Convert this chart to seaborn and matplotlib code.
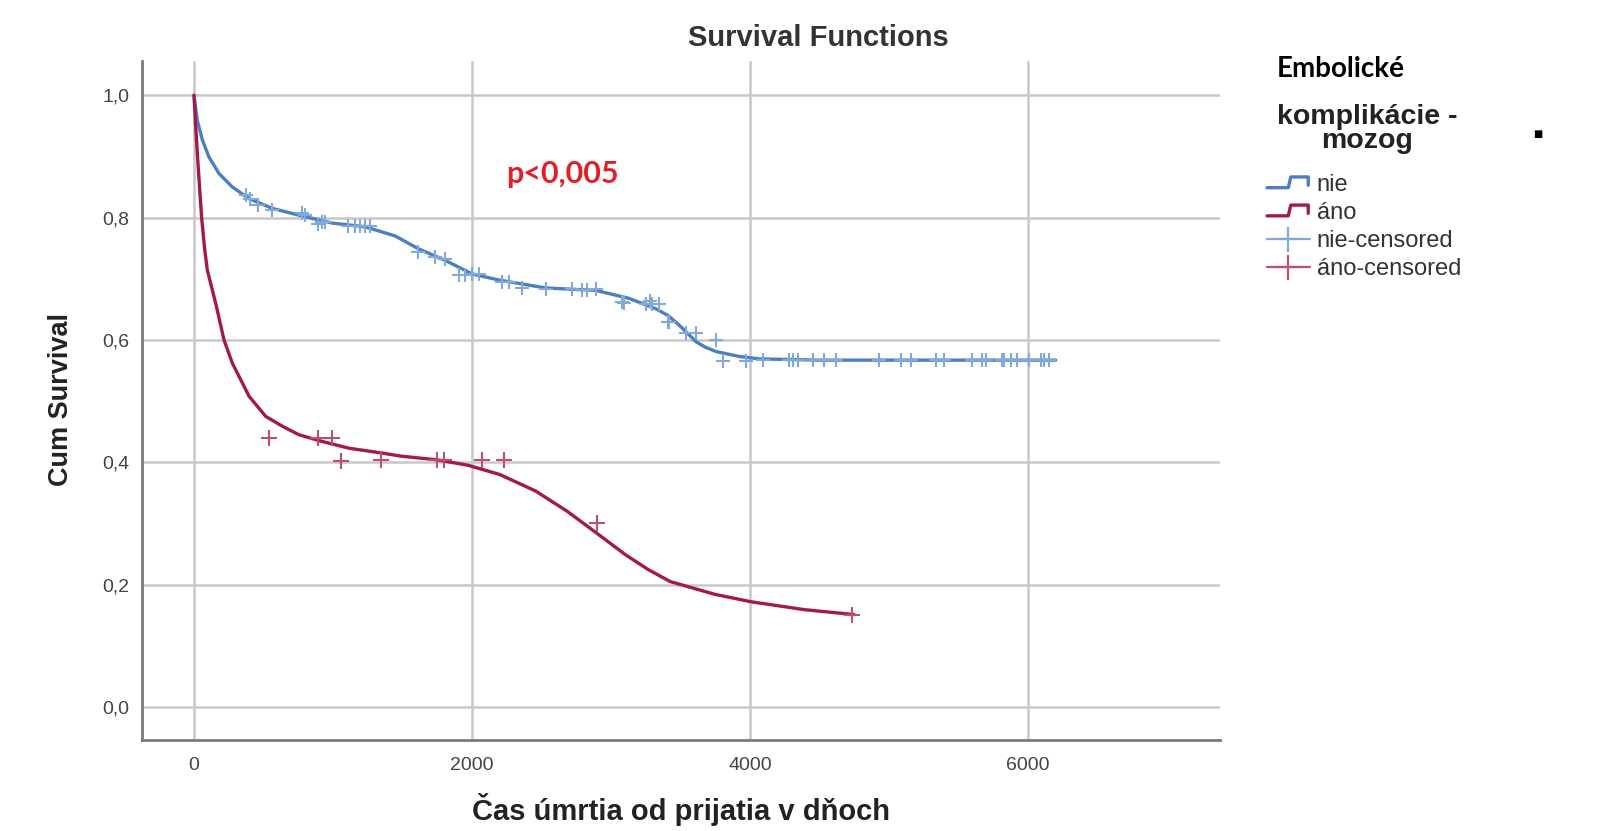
import numpy as np
import pandas as pd
import matplotlib
matplotlib.use('Agg')
import matplotlib.pyplot as plt
import seaborn as sns
from matplotlib.lines import Line2D
from matplotlib.legend_handler import HandlerBase

# survival curves (days, cumulative survival)
nie_t = [0, 24, 60, 108, 180, 276, 396, 564, 755, 995, 1231, 1447, 1615, 1808, 2000, 2192,
         2529, 2890, 3130, 3322, 3410, 3491, 3550, 3612, 3680, 3756, 3923, 4067, 4500,
         5200, 6199]
nie_s = [1.0, 0.959, 0.927, 0.899, 0.872, 0.850, 0.831, 0.815, 0.804, 0.791, 0.785, 0.770,
         0.749, 0.730, 0.708, 0.698, 0.685, 0.681, 0.668, 0.651, 0.640, 0.624, 0.611, 0.597,
         0.588, 0.581, 0.573, 0.569, 0.567, 0.567, 0.567]

ano_t = [0, 12, 24, 40, 55, 75, 96, 156, 216, 276, 396, 516, 635, 755, 923, 1115, 1355, 1490,
         1749, 1974, 2200, 2458, 2684, 2910, 3103, 3265, 3426, 3749, 4007, 4394, 4749]
ano_s = [1.0, 0.950, 0.905, 0.850, 0.800, 0.752, 0.714, 0.660, 0.600, 0.562, 0.508, 0.475,
         0.459, 0.445, 0.434, 0.423, 0.415, 0.410, 0.404, 0.395, 0.380, 0.353, 0.320, 0.282,
         0.249, 0.225, 0.205, 0.184, 0.172, 0.159, 0.151]

# censored observations
nie_cens_t = [377, 401, 462, 558, 774, 798, 894, 918, 942, 1111, 1159, 1195, 1231, 1267,
              1615, 1736, 1808, 1904, 1952, 2000, 2048, 2217, 2265, 2361, 2529, 2721,
              2793, 2830, 2890, 3082, 3097, 3250, 3277, 3298, 3346, 3408, 3419, 3540,
              3612, 3756, 3804, 3971, 4091, 4283, 4307, 4342, 4450, 4534, 4618, 4929,
              5085, 5157, 5336, 5396, 5600, 5672, 5696, 5815, 5827, 5875, 5923, 6007,
              6091, 6115, 6151]
nie_cens_s = [0.837, 0.831, 0.820, 0.812, 0.807, 0.804, 0.790, 0.793, 0.793, 0.787, 0.787,
              0.787, 0.787, 0.787, 0.744, 0.736, 0.733, 0.706, 0.706, 0.707, 0.707, 0.695,
              0.695, 0.685, 0.684, 0.683, 0.681, 0.681, 0.683, 0.662, 0.660, 0.659, 0.663,
              0.659, 0.659, 0.630, 0.629, 0.611, 0.611, 0.600, 0.565, 0.565, 0.567, 0.567,
              0.567, 0.567, 0.567, 0.567, 0.567, 0.567, 0.567, 0.567, 0.567, 0.567, 0.567,
              0.567, 0.567, 0.567, 0.567, 0.567, 0.567, 0.567, 0.567, 0.567, 0.567]

ano_cens_t = [539, 894, 990, 1055, 1345, 1749, 1797, 2071, 2232, 2900, 4733]
ano_cens_s = [0.440, 0.440, 0.440, 0.402, 0.403, 0.403, 0.403, 0.403, 0.403, 0.301, 0.151]

x_ticks = [0, 2000, 4000, 6000]
y_ticks = [0.0, 0.2, 0.4, 0.6, 0.8, 1.0]
legend_labels = ['nie', 'áno', 'nie-censored', 'áno-censored']

blue = '#4a7fc0'
blue_light = '#82a9da'
red = '#a31a4a'
red_light = '#bb4e72'

sns.set_style('white')
plt.rcParams['font.family'] = ['Liberation Sans', 'DejaVu Sans']

fig = plt.figure(figsize=(16.03, 8.31), dpi=100)
W, H = 1603, 831
ax = fig.add_axes([142 / W, 91 / H, 1078 / W, 679 / H])

nie = pd.DataFrame({'t': nie_t, 's': nie_s})
ano = pd.DataFrame({'t': ano_t, 's': ano_s})
sns.lineplot(data=nie, x='t', y='s', ax=ax, color=blue, lw=2.4, sort=False, estimator=None, zorder=3)
sns.lineplot(data=ano, x='t', y='s', ax=ax, color=red, lw=2.4, sort=False, estimator=None, zorder=3)
ax.plot(nie_cens_t, nie_cens_s, ls='none', marker='+', ms=10, mew=1.5, color=blue_light, zorder=4)
ax.plot(ano_cens_t, ano_cens_s, ls='none', marker='+', ms=11, mew=1.5, color=red_light, zorder=4)

ax.set_xlim(-374, 7381)
ax.set_ylim(-0.054, 1.056)
ax.set_xticks(x_ticks)
ax.set_yticks(y_ticks)
ax.set_yticklabels([f'{v:.1f}'.replace('.', ',') for v in y_ticks])
ax.grid(True, color='#c8c8c8', lw=1.8)
ax.set_axisbelow(True)
ax.tick_params(axis='both', length=0, labelsize=14, labelcolor='#444444')
ax.tick_params(axis='y', pad=9)
ax.tick_params(axis='x', pad=12)
for side in ['top', 'right']:
    ax.spines[side].set_visible(False)
for side in ['left', 'bottom']:
    ax.spines[side].set_color('#7a7a7a')
    ax.spines[side].set_linewidth(2)

ax.set_xlabel('Čas úmrtia od prijatia v dňoch', fontsize=21, fontweight='bold', color='#222222')
ax.xaxis.set_label_coords(0.5, -0.103)
ax.xaxis.label.set_va('center')
ax.set_ylabel('Cum Survival', fontsize=19.5, fontweight='bold', color='#222222')
ax.yaxis.set_label_coords(-0.0751, 0.502)
ax.yaxis.label.set_va('center')

fig.text(818 / W, 1 - 38 / H, 'Survival Functions', fontsize=21, fontweight='bold',
         color='#333333', ha='center', va='center')
fig.text(562 / W, 1 - 174 / H, 'p<0,005', fontsize=22, fontweight='bold', color='#e41e26',
         ha='center', va='center', family=['Lato', 'DejaVu Sans'])
fig.text(1341 / W, 1 - 69 / H, 'Embolické', fontsize=20, fontweight='bold', color='black',
         ha='center', va='center', family=['Lato', 'DejaVu Sans'])
fig.text(1367 / W, 1 - 129 / H, 'komplikácie -\nmozog', fontsize=20.5, fontweight='bold',
         color='#222222', ha='center', va='center', linespacing=0.95, multialignment='center')
fig.text(1538 / W, 1 - 134 / H, '■', fontsize=7, color='black', ha='center', va='center',
         family=['DejaVu Sans'])


class StepHandler(HandlerBase):
    def create_artists(self, legend, orig_handle, xdescent, ydescent, width, height, fontsize, trans):
        xs = np.array([0, 0.5, 0.56, 0.97, 0.97]) * width - xdescent
        ys = np.array([0.2, 0.2, 0.85, 0.85, 0.35]) * height - ydescent
        ln = Line2D(xs, ys, color=orig_handle.get_color(), lw=orig_handle.get_linewidth(),
                    transform=trans)
        return [ln]


handles = [
    Line2D([], [], color=blue, lw=2.4),
    Line2D([], [], color=red, lw=2.4),
    Line2D([], [], color=blue_light, lw=1.6, marker='+', ms=18, mew=1.6),
    Line2D([], [], color=red_light, lw=1.6, marker='+', ms=18, mew=1.6),
]
leg = fig.legend(handles, legend_labels, loc='upper left', bbox_to_anchor=(1267 / W, 1 - 174 / H),
                 frameon=False, fontsize=17, numpoints=1,
                 handlelength=1.8, handletextpad=0.3, labelspacing=0.26, borderpad=0,
                 borderaxespad=0, handler_map={handles[0]: StepHandler(), handles[1]: StepHandler()})
for t in leg.get_texts():
    t.set_color('#333333')

fig.savefig('out.png', dpi=100, facecolor='white')
